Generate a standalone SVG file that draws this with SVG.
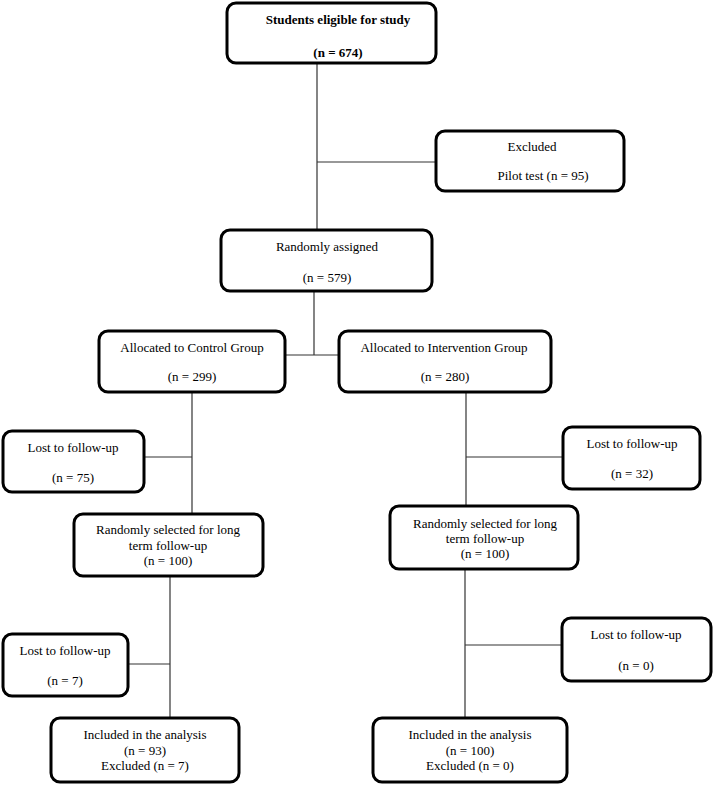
<svg xmlns="http://www.w3.org/2000/svg" width="714" height="785" viewBox="0 0 714 785" font-family="'Liberation Serif', 'Times New Roman', Times, serif">
<style>
.box{fill:#fff;stroke:#000;stroke-width:3;}
.ln{stroke:#333;stroke-width:1.2;fill:none;}
text{font-family:'Liberation Serif', 'Times New Roman', Times, serif;font-size:13px;fill:#000;text-anchor:middle;}
.b{font-weight:bold;}
</style>
<rect width="714" height="785" fill="#fff"/>
<g id="connectors">
<line class="ln" x1="317" y1="64" x2="317" y2="229"/>
<line class="ln" x1="317" y1="162" x2="435" y2="162"/>
<line class="ln" x1="314" y1="292" x2="314" y2="355"/>
<line class="ln" x1="286" y1="355" x2="338" y2="355"/>
<line class="ln" x1="192" y1="393" x2="192" y2="513"/>
<line class="ln" x1="145" y1="457" x2="192" y2="457"/>
<line class="ln" x1="466" y1="393" x2="466" y2="505"/>
<line class="ln" x1="466" y1="457" x2="562" y2="457"/>
<line class="ln" x1="170" y1="577" x2="170" y2="717"/>
<line class="ln" x1="129" y1="664" x2="170" y2="664"/>
<line class="ln" x1="465" y1="570" x2="465" y2="717"/>
<line class="ln" x1="465" y1="645" x2="561" y2="645"/>
</g>
<g id="eligible">
<rect class="box" x="227" y="3" width="209" height="60" rx="9"/>
<text class="b" x="338" y="23.5">Students eligible for study</text>
<text class="b" x="338" y="56.5">(n = 674)</text>
</g>
<g id="excluded">
<rect class="box" x="436" y="131" width="188" height="60" rx="9"/>
<text x="532" y="150.5">Excluded</text>
<text x="543" y="179.5">Pilot test (n = 95)</text>
</g>
<g id="randomly-assigned">
<rect class="box" x="221" y="230" width="211" height="61" rx="9"/>
<text x="327" y="250.5">Randomly assigned</text>
<text x="327" y="281.5">(n = 579)</text>
</g>
<g id="control">
<rect class="box" x="99" y="331" width="186" height="61" rx="9"/>
<text x="192" y="351.5">Allocated to Control Group</text>
<text x="192" y="380.5">(n = 299)</text>
</g>
<g id="intervention">
<rect class="box" x="339" y="331" width="212" height="61" rx="9"/>
<text x="444" y="351.5">Allocated to Intervention Group</text>
<text x="445" y="380.5">(n = 280)</text>
</g>
<g id="lost-75">
<rect class="box" x="3" y="431" width="141" height="61" rx="9"/>
<text x="73" y="451.5">Lost to follow-up</text>
<text x="73" y="481.5">(n = 75)</text>
</g>
<g id="selected-control">
<rect class="box" x="74" y="514" width="189" height="62" rx="9"/>
<text x="168" y="533.5">Randomly selected for long</text>
<text x="168" y="549.5">term follow-up</text>
<text x="168" y="565">(n = 100)</text>
</g>
<g id="lost-32">
<rect class="box" x="563" y="427" width="137" height="62" rx="9"/>
<text x="632" y="447.5">Lost to follow-up</text>
<text x="632" y="477.5">(n = 32)</text>
</g>
<g id="selected-intervention">
<rect class="box" x="390" y="506" width="188" height="63" rx="9"/>
<text x="485" y="527.5">Randomly selected for long</text>
<text x="485" y="543">term follow-up</text>
<text x="485" y="558">(n = 100)</text>
</g>
<g id="lost-7">
<rect class="box" x="3" y="634" width="125" height="62" rx="9"/>
<text x="65" y="654.5">Lost to follow-up</text>
<text x="65" y="684.5">(n = 7)</text>
</g>
<g id="included-93">
<rect class="box" x="51" y="718" width="188" height="64" rx="9"/>
<text x="145" y="738.5">Included in the analysis</text>
<text x="145" y="754.5">(n = 93)</text>
<text x="145" y="769.5">Excluded (n = 7)</text>
</g>
<g id="lost-0">
<rect class="box" x="562" y="618" width="149" height="63" rx="9"/>
<text x="636" y="638.5">Lost to follow-up</text>
<text x="636" y="669.5">(n = 0)</text>
</g>
<g id="included-100">
<rect class="box" x="373" y="718" width="194" height="64" rx="9"/>
<text x="470" y="738.5">Included in the analysis</text>
<text x="470" y="754.5">(n = 100)</text>
<text x="470" y="769.5">Excluded (n = 0)</text>
</g>
</svg>
